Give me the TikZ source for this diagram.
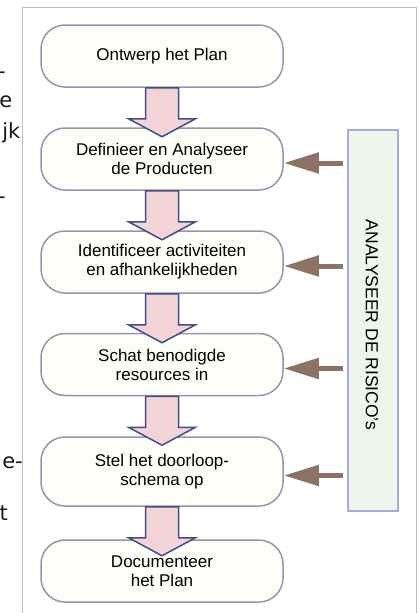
\documentclass[tikz,border=0pt]{standalone}
\usepackage{fontspec}
\setmainfont{Liberation Sans}
\newfontfamily\edgefont{DejaVu Sans}
\usetikzlibrary{arrows.meta,calc}

\definecolor{boxline}{HTML}{9B92AE}
\definecolor{boxfill}{HTML}{FEFEF8}
\definecolor{flowfill}{HTML}{F2D3D7}
\definecolor{flowline}{HTML}{3E4F88}
\definecolor{riskfill}{HTML}{EEF5EC}
\definecolor{riskline}{HTML}{A9A9DC}
\definecolor{riskbrown}{HTML}{8D7266}
\definecolor{framegray}{HTML}{BCBCBC}

\tikzset{
  stepbox/.style={draw=boxline, fill=boxfill, line width=1.5pt, rounded corners=24pt,
    minimum width=242pt, minimum height=62pt, inner sep=0pt, align=center,
    font=\fontsize{17}{19}\selectfont},
  flowarrow/.style={draw=flowline, fill=flowfill, line width=1.5pt, line join=miter},
  riskarrow/.style={draw=riskbrown, line width=5pt, shorten <=4pt,
    -{Triangle[length=35pt,width=20pt]}},
  edgetext/.style={inner sep=0pt, anchor=base east, text=black!90,
    font=\edgefont\fontsize{21}{25}\selectfont},
}

\begin{document}
\begin{tikzpicture}[x=1pt,y=1pt]
    \useasboundingbox (0,0) rectangle (419,-613);
    % frame of the slide
    \draw[framegray, line width=1pt] (22,-613) -- (22,-7) -- (416,-7) -- (416,-613);
    % cut-off text on the left
    \node[edgetext] (frag1) at (6,-78) {-};
    \node[edgetext] (frag2) at (12.5,-107) {e};
    \node[edgetext] (frag3) at (20.5,-138) {jk};
    \node[edgetext] (frag4) at (6,-203) {-};
    \node[edgetext] (frag5) at (23,-468) {e-};
    \node[edgetext] (frag6) at (8,-520) {t};
    % risk column
    \node[draw=riskline, fill=riskfill, line width=1.5pt, minimum width=50pt,
      minimum height=381pt, inner sep=0pt] (risk) at (373,-320.5) {};
    \node[rotate=-90, font=\fontsize{17.5}{20}\selectfont] (risktext) at (372,-325) {ANALYSEER DE RISICO's};
    % steps
    \node[stepbox] (b1) at (162,-56) {Ontwerp het Plan};
    \node[stepbox] (b2) at (162,-159) {Definieer en Analyseer\\de Producten};
    \node[stepbox] (b3) at (162,-262) {Identificeer activiteiten\\en afhankelijkheden};
    \node[stepbox] (b4) at (162,-364.5) {Schat benodigde\\resources in};
    \node[stepbox, minimum height=69pt] (b5) at (162,-471.5) {Stel het doorloop-\\schema op};
    \node[stepbox] (b6) at (162,-571) {Documenteer\\het Plan};
    % risks feed into the steps
    \foreach \b in {b2,b3,b4,b5}{
      \coordinate (t\b) at ([yshift=-4pt]\b.east);
      \draw[riskarrow] (risk.west |- t\b) -- (t\b);
    }
    % block arrows between the steps
    \foreach \a in {b1,b2,b3,b4,b5}
      \filldraw[flowarrow] let \p1=(\a.south) in
        (\x1-16.5pt,\y1) -- (\x1-16.5pt,\y1-31pt) -- (\x1-33.5pt,\y1-31pt) -- (\x1,\y1-49pt)
        -- (\x1+33.5pt,\y1-31pt) -- (\x1+16.5pt,\y1-31pt) -- (\x1+16.5pt,\y1) -- cycle;
\end{tikzpicture}
\end{document}
